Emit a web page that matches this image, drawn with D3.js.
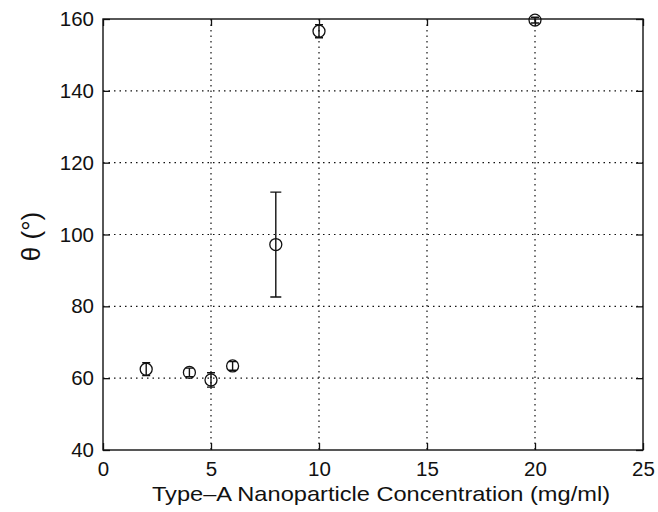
<!DOCTYPE html>
<html>
<head>
<meta charset="utf-8">
<script src="https://cdn.jsdelivr.net/npm/d3@7"></script>
<style>
  body { margin: 0; background: #fff; }
  text { font-family: "Liberation Sans", Arial, sans-serif; fill: #111; }
</style>
</head>
<body>
<svg id="chart" width="658" height="512"></svg>
<script>
/* DATA */
const concentration = [2, 4, 5, 6, 8, 10, 20];
const theta = [62.5, 61.6, 59.5, 63.4, 97.2, 156.6, 159.7];
const thetaErr = [1.8, 1.2, 2.0, 1.2, 14.6, 1.8, 0.8];
const xTicks = [0, 5, 10, 15, 20, 25];
const yTicks = [40, 60, 80, 100, 120, 140, 160];

const margin = {top: 19, right: 15, bottom: 62, left: 103};
const width = 658, height = 512;
const plotWidth = width - margin.left - margin.right;
const plotHeight = height - margin.top - margin.bottom;

let svg = d3.select("svg#chart");
const plot = svg.append("g")
  .attr("transform", "translate(" + margin.left + "," + margin.top + ")");

/* SCALES */
let xScale = d3.scaleLinear().domain([0, 25]).range([0, plotWidth]);
let yScale = d3.scaleLinear().domain([40, 160]).range([plotHeight, 0]);

/* GRID */
const grid = plot.append("g").attr("class", "grid")
  .attr("stroke", "#111").attr("stroke-width", 1.2)
  .attr("stroke-dasharray", "1.5,4");

grid.selectAll("line.gx")
  .data(xTicks.filter(d => d > 0 && d < 25))
  .join("line").attr("class", "gx")
  .attr("x1", d => xScale(d)).attr("x2", d => xScale(d))
  .attr("y1", 0).attr("y2", plotHeight);

grid.selectAll("line.gy")
  .data(yTicks.filter(d => d > 40 && d < 160))
  .join("line").attr("class", "gy")
  .attr("y1", d => yScale(d)).attr("y2", d => yScale(d))
  .attr("x1", 0).attr("x2", plotWidth);

/* AXES (ticks inside, on all four sides) */
function styleAxis(g) {
  g.select(".domain").remove();
  g.selectAll(".tick line").attr("stroke", "#111").attr("stroke-width", 1.3);
  g.selectAll(".tick text")
    .style("font-size", "20.5px")
    .attr("fill", "#111");
}

let xAxis = d3.axisBottom(xScale).tickValues(xTicks).tickSize(-7).tickPadding(11).tickFormat(d3.format("d"));
let yAxis = d3.axisLeft(yScale).tickValues(yTicks).tickSize(-7).tickPadding(9).tickFormat(d3.format("d"));

plot.append("g").attr("transform", "translate(0," + plotHeight + ")").call(xAxis).call(styleAxis);
plot.append("g").call(yAxis).call(styleAxis);
plot.append("g").call(d3.axisTop(xScale).tickValues(xTicks).tickSize(-7).tickFormat(""))
  .call(styleAxis);
plot.append("g").attr("transform", "translate(" + plotWidth + ",0)")
  .call(d3.axisRight(yScale).tickValues(yTicks).tickSize(-7).tickFormat(""))
  .call(styleAxis);

plot.append("rect")
  .attr("width", plotWidth).attr("height", plotHeight)
  .attr("fill", "none").attr("stroke", "#111").attr("stroke-width", 1.4);

/* DATA MARKS */
const points = concentration.map((c, i) => ({x: c, y: theta[i], e: thetaErr[i]}));
const marks = plot.append("g").attr("stroke", "#111").attr("fill", "none");

marks.selectAll("line.err")
  .data(points).join("line").attr("class", "err")
  .attr("x1", d => xScale(d.x)).attr("x2", d => xScale(d.x))
  .attr("y1", d => yScale(d.y - d.e)).attr("y2", d => yScale(d.y + d.e))
  .attr("stroke-width", 1.4);

marks.selectAll("path.cap")
  .data(points).join("path").attr("class", "cap")
  .attr("d", d => {
    const x = xScale(d.x), w = d.e > 5 ? 5.5 : 4;
    return "M" + (x - w) + "," + yScale(d.y + d.e) + "H" + (x + w) +
           "M" + (x - w) + "," + yScale(d.y - d.e) + "H" + (x + w);
  })
  .attr("stroke-width", 1.4);

marks.selectAll("circle")
  .data(points).join("circle")
  .attr("cx", d => xScale(d.x)).attr("cy", d => yScale(d.y))
  .attr("r", 6).attr("stroke-width", 1.3);

/* AXIS TITLES */
svg.append("text")
  .attr("x", 381)
  .attr("y", 501)
  .attr("text-anchor", "middle")
  .attr("textLength", 458)
  .attr("lengthAdjust", "spacingAndGlyphs")
  .style("font-size", "21px")
  .text("Type\u2013A Nanoparticle Concentration (mg/ml)");

svg.append("text")
  .attr("transform", "translate(40," + (margin.top + plotHeight / 2 + 2) + ") rotate(-90)")
  .attr("text-anchor", "middle")
  .style("font-size", "26px")
  .text("\u03b8 (\u00b0)");
</script>
</body>
</html>
